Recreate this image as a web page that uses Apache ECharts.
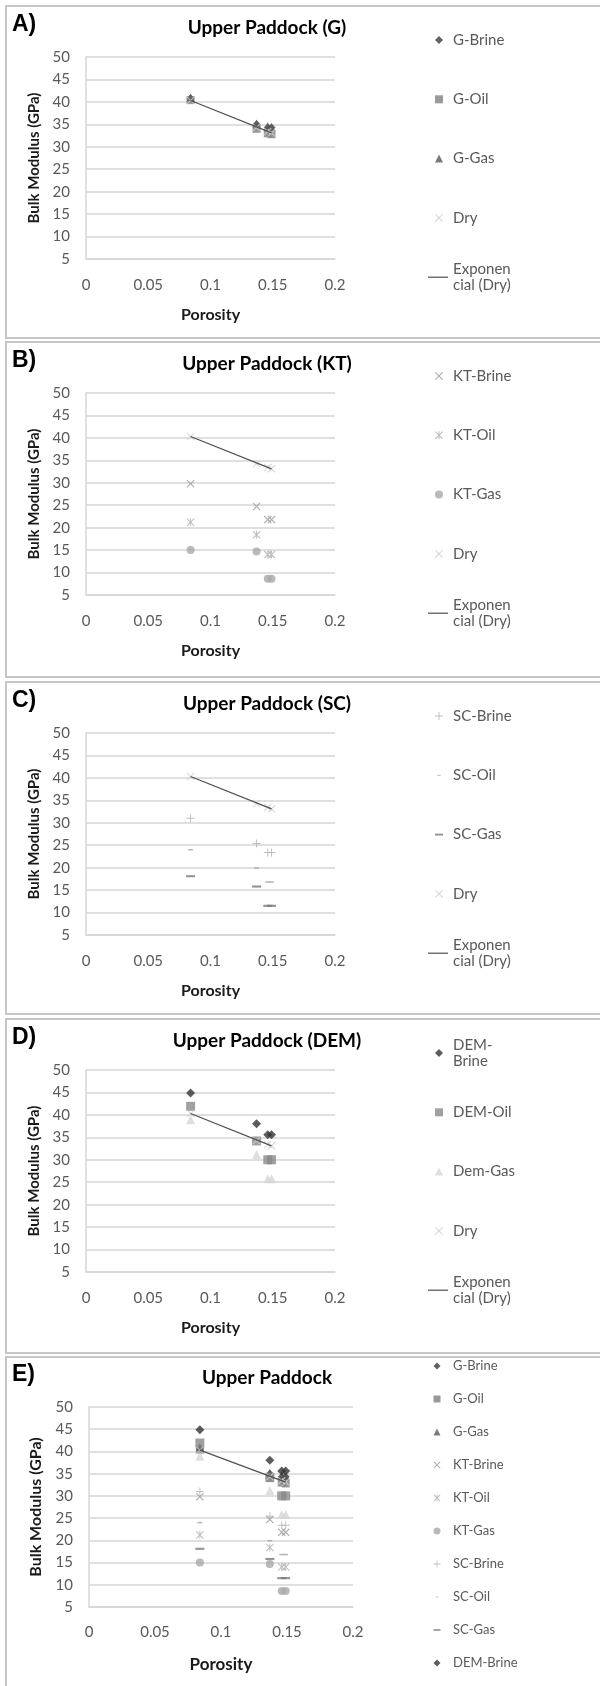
<!DOCTYPE html>
<html>
<head>
<meta charset="utf-8">
<script src="https://cdn.jsdelivr.net/npm/echarts@6/dist/echarts.min.js"></script>
<style>
  html, body { margin: 0; padding: 0; background: #fff; }
  body { width: 600px; height: 1686px; position: relative; overflow: hidden; }
  .panel { position: absolute; left: 5px; width: 600px; border: 2px solid #c6c6c6; box-sizing: border-box; }
  .chart { width: 100%; height: 100%; }
</style>
</head>
<body>
<div class="panel" style="top:5px;height:334px"><div class="chart" id="pA"></div></div>
<div class="panel" style="top:341px;height:337px"><div class="chart" id="pB"></div></div>
<div class="panel" style="top:681px;height:334px"><div class="chart" id="pC"></div></div>
<div class="panel" style="top:1018px;height:336px"><div class="chart" id="pD"></div></div>
<div class="panel" style="top:1356px;height:340px"><div class="chart" id="pE"></div></div>
<script>
// porosity of the samples (fraction)
const porosity = [0.084, 0.137, 0.146, 0.149];

// bulk modulus (GPa)
const gBrine = [40.8, 35.0, 34.3, 34.3];
const gOil = [40.4, 34.0, 33.0, 32.8];
const gGas = [41.0, 35.2, 34.6, 34.4];
const ktBrine = [29.8, 24.7, 21.8, 21.8];
const ktOil = [21.2, 18.4, 14.0, 14.0];
const ktGas = [15.0, 14.7, 8.6, 8.6];
const scBrine = [31.0, 25.4, 23.4, 23.4];
const scOil = [24.0, 19.9, 16.8, 16.8];
const scGas = [18.1, 15.8, 11.5, 11.5];
const demBrine = [44.9, 38.0, 35.6, 35.6];
const demOil = [41.9, 34.2, 30.0, 30.0];
const demGas = [38.9, 31.2, 25.8, 25.8];
const dry = [40.3, 34.3, 33.4, 33.1];

// exponential trend of the dry rock, read at both ends
const trendPorosity = [0.084, 0.149];
const trendDry = [40.3, 33.1];

const seriesValues = {
  'G-Brine': gBrine, 'G-Oil': gOil, 'G-Gas': gGas,
  'KT-Brine': ktBrine, 'KT-Oil': ktOil, 'KT-Gas': ktGas,
  'SC-Brine': scBrine, 'SC-Oil': scOil, 'SC-Gas': scGas,
  'DEM-Brine': demBrine, 'DEM-Oil': demOil, 'Dem-Gas': demGas,
  'Dry': dry,
};

// excel style markers
const crossPath = 'path://M0,1L1,0L5,4L9,0L10,1L6,5L10,9L9,10L5,6L1,10L0,9L4,5Z';
const starPath = 'path://M0,1L1,0L5,4L9,0L10,1L6,5L10,9L9,10L5,6L1,10L0,9L4,5ZM4.4,0L5.6,0L5.6,10L4.4,10Z';
const plusPath = 'path://M4.4,0L5.6,0L5.6,4.4L10,4.4L10,5.6L5.6,5.6L5.6,10L4.4,10L4.4,5.6L0,5.6L0,4.4L4.4,4.4Z';
const dashShort = 'path://M0,0M10,10M3,4.4L7,4.4L7,5.6L3,5.6Z';
const dashLong = 'path://M0,0M10,10M0,3.8L10,3.8L10,6.2L0,6.2Z';

const seriesLook = {
  'G-Brine': { symbol: 'diamond', size: 8, color: '#3b3b3b' },
  'G-Oil': { symbol: 'rect', size: 8, color: '#7f7f7f' },
  'G-Gas': { symbol: 'triangle', size: 8, color: '#5a5a5a' },
  'KT-Brine': { symbol: crossPath, size: 8, color: '#999999' },
  'KT-Oil': { symbol: starPath, size: 8, color: '#b0b0b0' },
  'KT-Gas': { symbol: 'circle', size: 8, color: '#a8a8a8' },
  'SC-Brine': { symbol: plusPath, size: 8, color: '#b0b0b0' },
  'SC-Oil': { symbol: dashShort, size: 12, color: '#a0a0a0' },
  'SC-Gas': { symbol: dashLong, size: 9, color: '#7a7a7a' },
  'DEM-Brine': { symbol: 'diamond', size: 9, color: '#333333' },
  'DEM-Oil': { symbol: 'rect', size: 9, color: '#8a8a8a' },
  'Dem-Gas': { symbol: 'triangle', size: 9, color: '#d6d6d6' },
  'Dry': { symbol: crossPath, size: 8, color: '#cfcfcf' },
};

const TREND = 'Exponential (Dry)';

const panels = [
  { id: 'pA', letter: 'A)', title: 'Upper Paddock (G)', big: false,
    names: ['G-Brine', 'G-Oil', 'G-Gas', 'Dry', TREND] },
  { id: 'pB', letter: 'B)', title: 'Upper Paddock (KT)', big: false,
    names: ['KT-Brine', 'KT-Oil', 'KT-Gas', 'Dry', TREND] },
  { id: 'pC', letter: 'C)', title: 'Upper Paddock (SC)', big: false,
    names: ['SC-Brine', 'SC-Oil', 'SC-Gas', 'Dry', TREND] },
  { id: 'pD', letter: 'D)', title: 'Upper Paddock (DEM)', big: false,
    names: ['DEM-Brine', 'DEM-Oil', 'Dem-Gas', 'Dry', TREND] },
  { id: 'pE', letter: 'E)', title: 'Upper Paddock', big: true,
    names: ['G-Brine', 'G-Oil', 'G-Gas', 'KT-Brine', 'KT-Oil', 'KT-Gas', 'SC-Brine', 'SC-Oil',
            'SC-Gas', 'DEM-Brine', 'DEM-Oil', 'Dem-Gas', 'Dry', TREND] },
];

const wrapSmall = { [TREND]: 'Exponen\ncial (Dry)', 'DEM-Brine': 'DEM-\nBrine' };

const smallLayout = {
  grid: { left: 79, top: 50, width: 249, height: 202 },
  titleX: 260, titleY: 21, titleSize: 19, letterY: 18,
  tickSize: 15, yNameSize: 15, xNameSize: 16, yNameGap: 44, xNameGap: 48,
  xLabelMargin: 19, yLabelMargin: 16,
  iconCenter: 432, textX: 446, lineLeft: 421, iconSize: 8,
  legendFirst: 33, legendStep: 59.3, legendSize: 15, legendLine: 16,
};
const bigLayout = {
  grid: { left: 82, top: 49, width: 264, height: 200 },
  titleX: 260, titleY: 20, titleSize: 19, letterY: 17,
  tickSize: 15, yNameSize: 16, xNameSize: 17, yNameGap: 45, xNameGap: 49,
  xLabelMargin: 18, yLabelMargin: 16,
  iconCenter: 430, textX: 446, lineLeft: 421, iconSize: 7,
  legendFirst: 8, legendStep: 33.0, legendSize: 13, legendLine: 14,
};

const drawPanel = (dom, p) => {
  const L = p.big ? bigLayout : smallLayout;
  const chart = echarts.init(dom);

  const series = p.names.filter(n => n !== TREND).map(name => {
    const look = seriesLook[name];
    return {
      type: 'scatter',
      name: name,
      symbol: look.symbol,
      symbolSize: look.size,
      itemStyle: { color: look.color },
      data: seriesValues[name].map((v, i) => [porosity[i], v]),
    };
  });
  series.push({
    type: 'line',
    name: TREND,
    symbol: 'none',
    lineStyle: { color: '#505050', width: 1.2 },
    itemStyle: { color: '#505050' },
    data: trendDry.map((v, i) => [trendPorosity[i], v]),
  });

  // one legend per entry so each row sits where the original has it
  const legends = p.names.map((name, i) => {
    const label = (!p.big && wrapSmall[name]) || name;
    const twoLines = label.indexOf('\n') >= 0;
    const c = L.legendFirst + i * L.legendStep;
    const isLine = name === TREND;
    const w = isLine ? L.textX - 5 - L.lineLeft : L.iconSize;
    const left = isLine ? L.lineLeft : L.iconCenter - L.iconSize / 2;
    const padLeft = L.textX - (left + w + 5);
    return {
      data: isLine ? [{ name: name, icon: 'rect' }] : [name],
      orient: 'vertical',
      left: left,
      top: c - (twoLines ? 1.5 : 0.5) * L.legendLine,
      padding: 0,
      itemWidth: w,
      itemHeight: isLine ? 1.2 : L.iconSize,
      selectedMode: false,
      formatter: () => label,
      textStyle: {
        fontFamily: 'Lato',
        fontSize: L.legendSize,
        color: '#595959',
        lineHeight: L.legendLine,
        padding: [twoLines ? L.legendLine : 0, 0, 0, padLeft],
      },
    };
  });

  chart.setOption({
    animation: false,
    title: [
      {
        text: p.letter, left: 5, top: L.letterY - 13, padding: 0,
        textStyle: { fontFamily: 'Liberation Sans', fontWeight: 'bold', fontSize: 23, lineHeight: 26, color: '#000' },
      },
      {
        text: p.title, left: L.titleX, textAlign: 'center', top: L.titleY - 11, padding: 0,
        textStyle: { fontFamily: 'Lato', fontWeight: 'bold', fontSize: L.titleSize, lineHeight: 22, color: '#000' },
      },
    ],
    legend: legends,
    grid: L.grid,
    xAxis: {
      type: 'value',
      min: 0,
      max: 0.2,
      interval: 0.05,
      name: 'Porosity',
      nameLocation: 'middle',
      nameGap: L.xNameGap,
      nameTextStyle: { fontFamily: 'Lato', fontWeight: 'bold', fontSize: L.xNameSize, color: '#1a1a1a' },
      axisLine: { show: true, lineStyle: { color: '#d6d6d6', width: 1.5 } },
      axisTick: { show: false },
      splitLine: { show: false },
      axisLabel: { margin: L.xLabelMargin, fontFamily: 'Lato', fontSize: L.tickSize, color: '#595959' },
    },
    yAxis: {
      type: 'value',
      min: 5,
      max: 50,
      interval: 5,
      name: 'Bulk Modulus (GPa)',
      nameLocation: 'middle',
      nameGap: L.yNameGap,
      nameTextStyle: { fontFamily: 'Lato', fontWeight: 'bold', fontSize: L.yNameSize, color: '#1a1a1a' },
      axisLine: { show: true, lineStyle: { color: '#d6d6d6', width: 1.5 } },
      axisTick: { show: false },
      splitLine: { show: true, lineStyle: { color: '#d6d6d6', width: 1.5 } },
      axisLabel: { margin: L.yLabelMargin, fontFamily: 'Lato', fontSize: L.tickSize, color: '#595959' },
    },
    series: series,
  });
};

panels.forEach(p => drawPanel(document.getElementById(p.id), p));
</script>
</body>
</html>
